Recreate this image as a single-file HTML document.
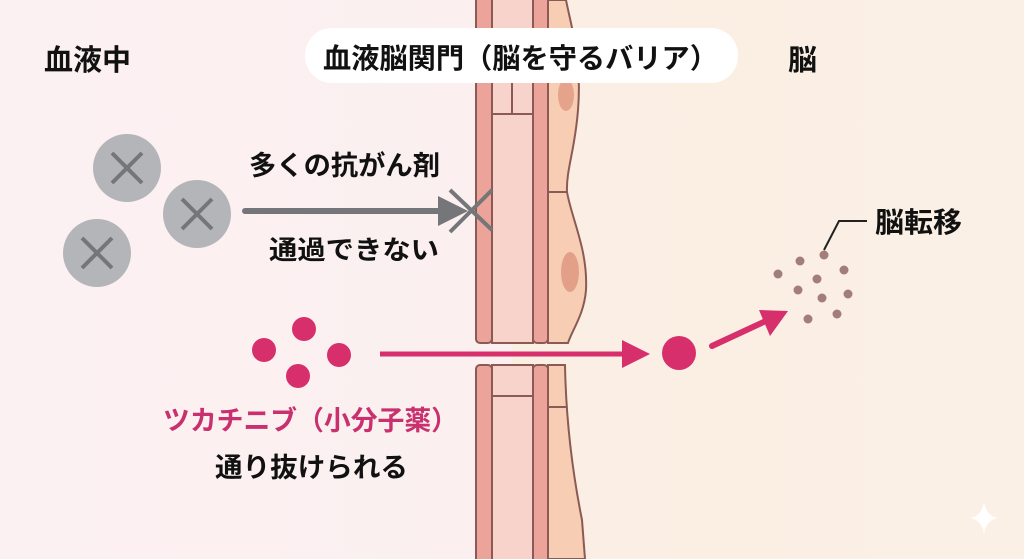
<!DOCTYPE html>
<html><head><meta charset="utf-8"><style>
html,body{margin:0;padding:0}
body{width:1024px;height:559px;overflow:hidden;position:relative;font-family:"Liberation Sans","Noto Sans CJK JP",sans-serif;}
</style></head><body>
<svg width="1024" height="559" viewBox="0 0 1024 559" xmlns="http://www.w3.org/2000/svg" style="position:absolute;left:0;top:0">
<defs>
<linearGradient id="bg" x1="0" x2="1" y1="0" y2="0">
<stop offset="0" stop-color="#fcf1f2"/><stop offset="0.5" stop-color="#fbeff0"/><stop offset="0.5" stop-color="#fbeee3"/><stop offset="1" stop-color="#fbf0e6"/>
</linearGradient>
</defs>
<rect width="1024" height="559" fill="url(#bg)"/>
<g stroke="#8c5a55" stroke-width="2" fill="#f7cdb4">
<path d="M548 0 L566 0 C572 30 582 60 578 110 C575 150 566 170 567 192 C572 220 588 250 586 290 C584 315 572 330 568 343 L548 343 Z"/>
<path d="M548 365 L565 365 C566 420 572 470 582 520 L585 559 L548 559 Z"/>
</g>
<line x1="548" y1="192" x2="567" y2="192" stroke="#8c5a55" stroke-width="2"/>
<line x1="548" y1="407" x2="566" y2="407" stroke="#8c5a55" stroke-width="2"/>
<ellipse cx="566" cy="95" rx="8" ry="16" fill="#e6a38c"/>
<ellipse cx="570" cy="272" rx="9" ry="20" fill="#e3a088"/>
<g stroke="#8c5a55" stroke-width="2">
<rect x="492" y="-5" width="41" height="348" fill="#f8d3cc"/>
<rect x="492" y="365" width="41" height="200" fill="#f8d3cc"/>
<rect x="476" y="-10" width="16" height="353" rx="4" fill="#eca49a"/>
<rect x="533" y="-10" width="15" height="353" rx="4" fill="#eca49a"/>
<rect x="476" y="365" width="16" height="200" rx="4" fill="#eca49a"/>
<rect x="533" y="365" width="15" height="200" rx="4" fill="#eca49a"/>
<line x1="492" y1="114" x2="533" y2="114"/>
<line x1="512" y1="80" x2="512" y2="114"/>
<line x1="492" y1="396" x2="533" y2="396"/>
</g>
<rect x="305" y="28" width="433" height="55" rx="27" fill="#ffffff"/>
<g fill="#b4b5b8">
<circle cx="127" cy="168" r="34"/><circle cx="197" cy="214" r="34"/><circle cx="97" cy="253" r="34"/>
</g>
<g stroke="#75767a" stroke-width="4">
<path d="M112 153 L142 183 M142 153 L112 183"/>
<path d="M182 199 L212 229 M212 199 L182 229"/>
<path d="M82 238 L112 268 M112 238 L82 268"/>
</g>
<line x1="245" y1="211" x2="445" y2="211" stroke="#75767a" stroke-width="6" stroke-linecap="round"/>
<polygon points="438,196 468,211 438,226" fill="#75767a"/>
<path d="M450 190 L492 230 M450 232 L492 190" stroke="#75767a" stroke-width="4"/>
<g fill="#d62f6b">
<circle cx="304" cy="329" r="12"/><circle cx="264" cy="350" r="12"/><circle cx="339" cy="355" r="12"/><circle cx="298" cy="376" r="12"/>
<circle cx="679" cy="353" r="17"/>
</g>
<line x1="380" y1="354" x2="625" y2="354" stroke="#d62f6b" stroke-width="5"/>
<polygon points="622,340 650,354 622,368" fill="#d62f6b"/>
<line x1="712" y1="346" x2="770" y2="319" stroke="#d62f6b" stroke-width="6" stroke-linecap="round"/>
<polygon points="759,310 788,311 770,336" fill="#d62f6b"/>
<g fill="#a37c7c">
<circle cx="824" cy="255" r="4.5"/><circle cx="800" cy="261" r="4.5"/><circle cx="844" cy="270" r="4.5"/><circle cx="778" cy="274" r="4.5"/><circle cx="817" cy="279" r="4.5"/><circle cx="798" cy="290" r="4.5"/><circle cx="848" cy="294" r="4.5"/><circle cx="822" cy="298" r="4.5"/><circle cx="808" cy="319" r="4.5"/><circle cx="837" cy="314" r="4.5"/>
</g>
<path d="M824 250 L839 221 L867 221" fill="none" stroke="#222" stroke-width="2"/>
<path d="M984 502 Q986 516 998 518 Q986 520 984 534 Q982 520 970 518 Q982 516 984 502Z" fill="#ffffff"/>
<g font-weight="bold" fill="#111">
<text x="44" y="70" font-size="29">血液中</text>
<text x="323" y="68" font-size="28" textLength="395" lengthAdjust="spacingAndGlyphs">血液脳関門（脳を守るバリア）</text>
<text x="788" y="70" font-size="29">脳</text>
<text x="249" y="175" font-size="27" textLength="191" lengthAdjust="spacingAndGlyphs">多くの抗がん剤</text>
<text x="269" y="259" font-size="26" font-weight="600" textLength="170" lengthAdjust="spacingAndGlyphs">通過できない</text>
<text x="163" y="430" font-size="27" fill="#c8306e" textLength="295" lengthAdjust="spacingAndGlyphs">ツカチニブ（小分子薬）</text>
<text x="215" y="477" font-size="27" textLength="193" lengthAdjust="spacingAndGlyphs">通り抜けられる</text>
<text x="875" y="232" font-size="28" font-weight="600" textLength="87" lengthAdjust="spacingAndGlyphs">脳転移</text>
</g>
</svg>
</body></html>
